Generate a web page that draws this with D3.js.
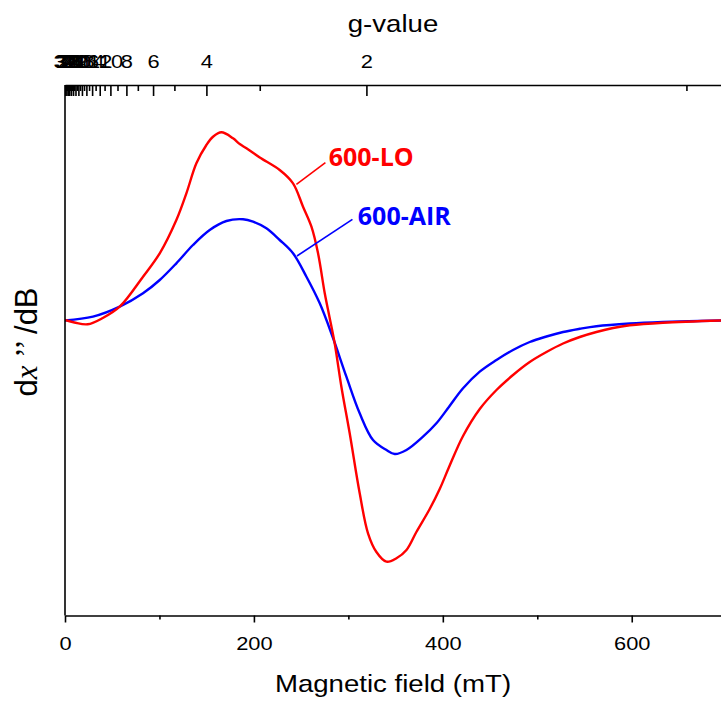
<!DOCTYPE html>
<html><head><meta charset="utf-8">
<script src="https://cdn.jsdelivr.net/npm/d3@7"></script>
<style>body{margin:0;background:#fff}</style>
</head><body><svg id="c" width="721" height="704"></svg>
<script>
// ---- data (magnetic field in mT, derivative signal in arbitrary units) ----
const fieldLO = [0,10,24,40,57.9,82.6,100.3,117.9,128.5,139.1,149.7,156.7,165.6,177.9,185,192.1,206.2,227.3,241.4,252,260.9,267.9,275,280,285.5,292.6,301.4,312,320.8,329.7,340.3,350.9,361.5,372,386.1,396.7,406.6,421.4,439.1,456.8,474.3,492,509.7,527.3,545,562.6,580.2,597.9,633.1,694.5];
const valueLO = [0,-2.5,-4.3,2,13.3,43.3,66.7,100,126.7,156.7,175,183.3,187.7,181.7,176,171.7,162.5,150,136.7,113.3,93.3,66.7,26.7,3,-23.3,-66.7,-113.3,-173.3,-213.3,-232,-241.7,-238.3,-230,-212,-189,-169,-147,-116,-89,-70,-55,-42,-32,-23.5,-17,-12,-8,-5.3,-2.7,-0.5];
const fieldAIR = [0,29.6,57.9,82.6,100.3,117.9,135.5,153.2,170.9,188.5,199.1,213.2,227.3,241.4,255.6,269.7,283,297.9,312,326.1,340.3,349.1,361.5,379,393.2,406.6,421.4,439.1,456.8,474.3,492,509.7,527.3,545,562.6,597.9,633.1,694.5];
const valueAIR = [-0.5,3.3,13.3,26.7,40,56.7,75,90,99,100.7,98.3,91.7,80,66.7,43.3,16.7,-16,-56.7,-93.3,-120,-130,-134,-130,-116.7,-103.3,-86.7,-68.3,-51.7,-40,-30,-22,-16.5,-12,-8.8,-6.2,-3.5,-2,-0.5];
const seriesNames = ["600-LO","600-AIR"];
const seriesColors = ["#ff0000","#0000ff"];
const fieldTicks = [0,200,400,600];
const fieldMinorTicks = [100,300,500];
const gMajor = [2,4,6,8,10,12,14,16,18,20,22,24,26,28,30,32,34];
const gMinor = [1,3,5,7,9,11,13,15,17,19,21,23,25,27,29,31,33];

// ---- layout ----
const L=65, R=721, T=85, B=615.5;
const SX=1.15; // horizontal text stretch seen in the reference
const x = d3.scaleLinear().domain([0,694.5]).range([L,R]);
const y = d3.scaleLinear().domain([-295.5,235]).range([B,T]);
const K = 677.6, topOffset = 19.7; // g-value axis: field = K/g
const xTop = d3.scaleLinear().domain([topOffset, topOffset+694.5]).range([L,R]);

const svg = d3.select('#c');
const font = "'Liberation Sans', Arial, sans-serif";

svg.append('defs').append('clipPath').attr('id','clip')
  .append('rect').attr('x',L).attr('y',T).attr('width',R-L).attr('height',B-T);

const line = d3.line().x(d=>x(d[0])).y(d=>y(d[1])).curve(d3.curveCatmullRom.alpha(0.5));
const plot = svg.append('g').attr('clip-path','url(#clip)');
const dataSets = [d3.zip(fieldLO,valueLO), d3.zip(fieldAIR,valueAIR)];
[1,0].forEach(i=>{
  plot.append('path').datum(dataSets[i])
    .attr('fill','none').attr('stroke',seriesColors[i]).attr('stroke-width',2.4)
    .attr('stroke-linejoin','round').attr('d',line);
});

// ---- axes ----
function styleAxis(g){
  g.selectAll('path,line').attr('stroke','#000').attr('stroke-width',1.6);
  g.selectAll('text').attr('fill','#000').attr('font-family',font).attr('font-size',19)
    .attr('transform',`scale(${SX},1)`);
}
const gb = svg.append('g').attr('transform',`translate(0,${B})`)
  .call(d3.axisBottom(x).tickValues(fieldTicks).tickSize(7).tickPadding(14).tickSizeOuter(0));
styleAxis(gb);
const gbm = svg.append('g').attr('transform',`translate(0,${B})`)
  .call(d3.axisBottom(x).tickValues(fieldMinorTicks).tickSize(4).tickFormat(''));
gbm.select('.domain').remove(); styleAxis(gbm);

const gt = svg.append('g').attr('transform',`translate(0,${T})`)
  .call(d3.axisTop(xTop).tickValues(gMajor.map(g=>K/g)).tickFormat((d,i)=>gMajor[i])
    .tickSize(-11).tickPadding(17).tickSizeOuter(0));
styleAxis(gt);
const gtm = svg.append('g').attr('transform',`translate(0,${T})`)
  .call(d3.axisTop(xTop).tickValues(gMinor.map(g=>K/g)).tickSize(-6).tickFormat(''));
gtm.select('.domain').remove(); styleAxis(gtm);

svg.append('line').attr('x1',L).attr('x2',L).attr('y1',T).attr('y2',B)
  .attr('stroke','#000').attr('stroke-width',1.6);

// ---- titles ----
svg.append('g').attr('transform',`translate(${(L+R)/2},692)`)
  .append('text').attr('text-anchor','middle').attr('font-family',font).attr('font-size',24)
  .attr('transform',`scale(${SX},1)`).text('Magnetic field (mT)');
svg.append('g').attr('transform',`translate(${(L+R)/2},32)`)
  .append('text').attr('text-anchor','middle').attr('font-family',font).attr('font-size',24)
  .attr('transform',`scale(${SX},1)`).text('g-value');
const yt = svg.append('text').attr('transform','translate(37,342) rotate(-90)')
  .attr('text-anchor','middle').attr('font-family',font).attr('font-size',31);
yt.append('tspan').text('d');
yt.append('tspan').attr('font-family',"'Liberation Serif','Times New Roman',serif").attr('font-style','italic').text('x');
yt.append('tspan').attr('font-family',"'Liberation Serif','Times New Roman',serif").text(' ’’ ');
yt.append('tspan').text('/dB');

// ---- annotations (in data units) ----
const annotations = [
  {name:0, from:[245,135.7], to:[275.7,157.3], text:[279.2,154]},
  {name:1, from:[245.6,64], to:[304.3,100.7], text:[310,95]}
];
annotations.forEach(a=>{
  svg.append('line').attr('x1',x(a.from[0])).attr('y1',y(a.from[1]))
    .attr('x2',x(a.to[0])).attr('y2',y(a.to[1]))
    .attr('stroke',seriesColors[a.name]).attr('stroke-width',1.6);
  svg.append('text').attr('x',x(a.text[0])).attr('y',y(a.text[1]))
    .attr('font-family',"'Open Sans', sans-serif").attr('font-weight','bold').attr('font-size',25)
    .attr('fill',seriesColors[a.name]).text(seriesNames[a.name]);
});
</script></body></html>
